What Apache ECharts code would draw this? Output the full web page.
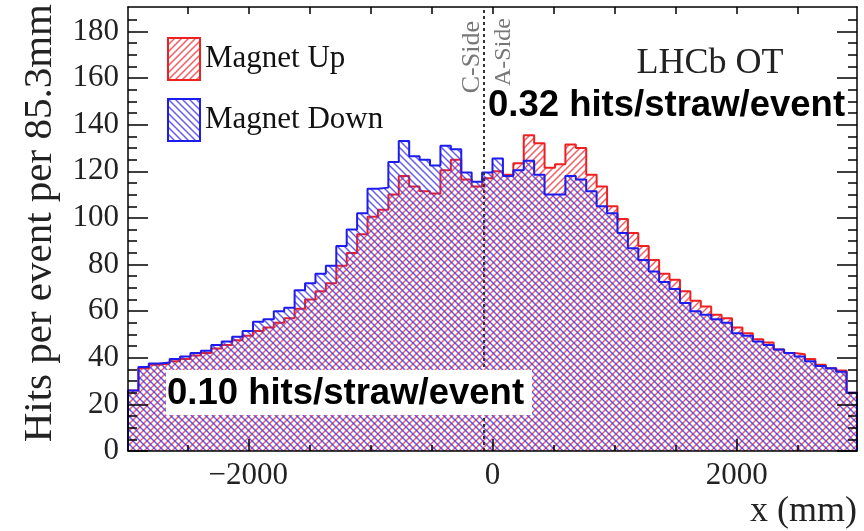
<!DOCTYPE html>
<html><head><meta charset="utf-8">
<script src="https://cdn.jsdelivr.net/npm/echarts@6/dist/echarts.min.js"></script>
<style>html,body{margin:0;padding:0;background:#fff}#c{width:864px;height:531px}</style>
</head><body><div id="c"></div>
<script>
// ---- data ----
const binWidth = 85.3;
const xMin = -2985.5;
const xMax = 2985.5;
const yMin = 0;
const yMax = 190.5;
const xLabelValues = [-2000, 0, 2000];
const xMajorTicks = [-2000, 0, 2000];
const xMinorTicks = [-2500, -2000, -1500, -1000, -500, 0, 500, 1000, 1500, 2000, 2500];
const yLabelValues = [0, 20, 40, 60, 80, 100, 120, 140, 160, 180];
const yMinorTicks = [5, 10, 15, 25, 30, 35, 45, 50, 55, 65, 70, 75, 85, 90, 95, 105, 110, 115, 125, 130, 135, 145, 150, 155, 165, 170, 175, 185];
const sideLineX = -70;
const seriesNames = ['Magnet Up', 'Magnet Down'];
const magnetUp = [
  26, 35.5, 37, 37.5, 38.5, 39.5, 41, 42, 44, 45.5,
  47.5, 49.5, 51.5, 53, 55, 57, 61, 65, 68.5, 72,
  79.5, 85, 93, 100.5, 103.5, 110, 118, 113.5, 111.5, 110.5,
  120.5, 125, 116.5, 113.5, 117, 120, 118.5, 123.5, 135.5, 132,
  121.5, 123, 131.5, 130, 118.5, 113.5, 105, 99.5, 93.5, 88,
  82, 76, 73.5, 68.5, 64.5, 62, 58.5, 57, 53, 50.5,
  48, 46.5, 43.5, 42, 41.5, 39.5, 37, 35.5, 34.5, 25
];
const magnetDown = [
  26, 36, 37.5, 38, 39.5, 40.5, 42, 43, 45.5, 47,
  49, 51.5, 55.5, 56.5, 60, 61.5, 69, 72, 76, 79.5,
  88, 95, 102, 112.5, 113, 124, 133, 126.5, 125, 122.5,
  131, 129.5, 119.5, 115.5, 119.5, 125.5, 118, 120.5, 124.5, 118.5,
  110, 110, 118, 116.5, 111.5, 105, 102, 93.5, 87, 82,
  77, 72.5, 69.5, 63.5, 60, 58.5, 56.5, 55, 50.5, 49.5,
  47, 45.5, 43.5, 42, 40.5, 38.5, 36.5, 35.5, 34, 25
];

// ---- helpers ----
function toSteps(values) {
  const pts = [[xMin, 0]];
  values.forEach((v, i) => pts.push([xMin + i * binWidth, v]));
  const end = xMin + values.length * binWidth;
  pts.push([end, values[values.length - 1]]);
  pts.push([end, 0]);
  return pts;
}
function hatch(color, dir) {
  const s = 7;
  const c = document.createElement('canvas');
  c.width = s; c.height = s;
  const g = c.getContext('2d');
  g.strokeStyle = color; g.lineWidth = 1.45;
  g.beginPath();
  if (dir > 0) {
    g.moveTo(0, s); g.lineTo(s, 0);
    g.moveTo(-2, 2); g.lineTo(2, -2);
    g.moveTo(s - 2, s + 2); g.lineTo(s + 2, s - 2);
  } else {
    g.moveTo(0, 0); g.lineTo(s, s);
    g.moveTo(-2, s - 2); g.lineTo(2, s + 2);
    g.moveTo(s - 2, -2); g.lineTo(s + 2, 2);
  }
  g.stroke();
  return c;
}
const RED = '#ee2020';
const BLUE = '#1c1cee';
const redPat = { image: hatch('rgba(240,50,60,0.8)', 1), repeat: 'repeat' };
const bluePat = { image: hatch('rgba(60,50,235,0.8)', -1), repeat: 'repeat' };
const SERIF = '"Liberation Serif", "Times New Roman", serif';
const SANS = '"Liberation Sans", Arial, sans-serif';
const black = { color: '#000', width: 1.5 };

const chart = echarts.init(document.getElementById('c'));
const xBase = { type: 'value', min: xMin, max: xMax, z: 10, splitLine: { show: false } };
const yBase = { type: 'value', min: yMin, max: yMax, z: 10, splitLine: { show: false } };
chart.setOption({
  animation: false,
  backgroundColor: '#fff',
  grid: { left: 128, right: 7, top: 7, bottom: 80, containLabel: false },
  xAxis: [
    Object.assign({}, xBase, {
      position: 'bottom',
      axisLine: { show: true, onZero: false, lineStyle: black },
      axisTick: { show: true, inside: true, length: 12, customValues: xMajorTicks, lineStyle: black },
      axisLabel: { show: true, customValues: xLabelValues, margin: 9, fontFamily: SERIF, fontSize: 31, color: '#222',
        formatter: v => (v < 0 ? '\u2212' + Math.abs(v) : String(v)) }
    }),
    Object.assign({}, xBase, {
      position: 'bottom',
      axisLine: { show: false, onZero: false },
      axisTick: { show: true, inside: true, length: 6, customValues: xMinorTicks, lineStyle: black },
      axisLabel: { show: false }
    }),
    Object.assign({}, xBase, {
      position: 'top',
      axisLine: { show: true, onZero: false, lineStyle: black },
      axisTick: { show: true, inside: true, length: 7, customValues: xMinorTicks, lineStyle: black },
      axisLabel: { show: false }
    })
  ],
  yAxis: [
    Object.assign({}, yBase, {
      position: 'left',
      axisLine: { show: true, onZero: false, lineStyle: black },
      axisTick: { show: true, inside: true, length: 20, customValues: yLabelValues, lineStyle: black },
      axisLabel: { show: true, customValues: yLabelValues, margin: 9, fontFamily: SERIF, fontSize: 31, color: '#222' }
    }),
    Object.assign({}, yBase, {
      position: 'left',
      axisLine: { show: false, onZero: false },
      axisTick: { show: true, inside: true, length: 9, customValues: yMinorTicks, lineStyle: black },
      axisLabel: { show: false }
    }),
    Object.assign({}, yBase, {
      position: 'right',
      axisLine: { show: true, onZero: false, lineStyle: black },
      axisTick: { show: true, inside: true, length: 20, customValues: yLabelValues, lineStyle: black },
      axisLabel: { show: false }
    }),
    Object.assign({}, yBase, {
      position: 'right',
      axisLine: { show: false, onZero: false },
      axisTick: { show: true, inside: true, length: 9, customValues: yMinorTicks, lineStyle: black },
      axisLabel: { show: false }
    })
  ],
  legend: {
    orient: 'vertical', left: 162, top: 32, itemWidth: 32, itemHeight: 42, itemGap: 17,
    icon: 'rect', selectedMode: false,
    textStyle: { fontFamily: SERIF, fontSize: 31, color: '#111' },
    data: [
      { name: seriesNames[0], itemStyle: { color: redPat, borderColor: RED, borderWidth: 2 } },
      { name: seriesNames[1], itemStyle: { color: bluePat, borderColor: BLUE, borderWidth: 2 } }
    ]
  },
  series: [
    {
      type: 'line', name: seriesNames[0], data: toSteps(magnetUp), step: 'end',
      symbol: 'none', showSymbol: false, z: 2,
      lineStyle: { color: RED, width: 2 }, itemStyle: { color: RED },
      areaStyle: { color: redPat, opacity: 1 }
    },
    {
      type: 'line', name: seriesNames[1], data: toSteps(magnetDown), step: 'end',
      symbol: 'none', showSymbol: false, z: 3,
      lineStyle: { color: BLUE, width: 2 }, itemStyle: { color: BLUE },
      areaStyle: { color: bluePat, opacity: 1 },
      markLine: {
        silent: true, symbol: 'none', label: { show: false },
        lineStyle: { color: '#333', type: [3, 3], width: 2 },
        data: [{ xAxis: sideLineX }]
      }
    }
  ],
  graphic: [
    { type: 'text', z: 100, x: 40, y: 4, rotation: Math.PI / 2,
      style: { text: 'Hits per event per 85.3mm', font: '41px ' + SERIF, fill: '#222', align: 'right', verticalAlign: 'middle' } },
    { type: 'text', z: 100, x: 857, y: 512,
      style: { text: 'x (mm)', font: '36px ' + SERIF, fill: '#222', align: 'right', verticalAlign: 'middle' } },
    { type: 'text', z: 100, x: 710, y: 64,
      style: { text: 'LHCb OT', font: '36px ' + SERIF, fill: '#222', align: 'center', verticalAlign: 'middle' } },
    { type: 'text', z: 100, x: 472, y: 21, rotation: Math.PI / 2,
      style: { text: 'C-Side', font: '26px ' + SERIF, fill: '#777', align: 'right', verticalAlign: 'middle' } },
    { type: 'text', z: 100, x: 504, y: 18, rotation: Math.PI / 2,
      style: { text: 'A-Side', font: '24px ' + SERIF, fill: '#777', align: 'right', verticalAlign: 'middle' } },
    { type: 'text', z: 100, x: 488, y: 106,
      style: { text: '0.32 hits/straw/event', font: 'bold 36.5px ' + SANS, fill: '#000', align: 'left', verticalAlign: 'middle' } },
    { type: 'rect', z: 99, shape: { x: 166, y: 370, width: 366, height: 45 }, style: { fill: '#fff' } },
    { type: 'text', z: 100, x: 167, y: 394,
      style: { text: '0.10 hits/straw/event', font: 'bold 36.5px ' + SANS, fill: '#000', align: 'left', verticalAlign: 'middle' } }
  ]
});
</script>
</body></html>
